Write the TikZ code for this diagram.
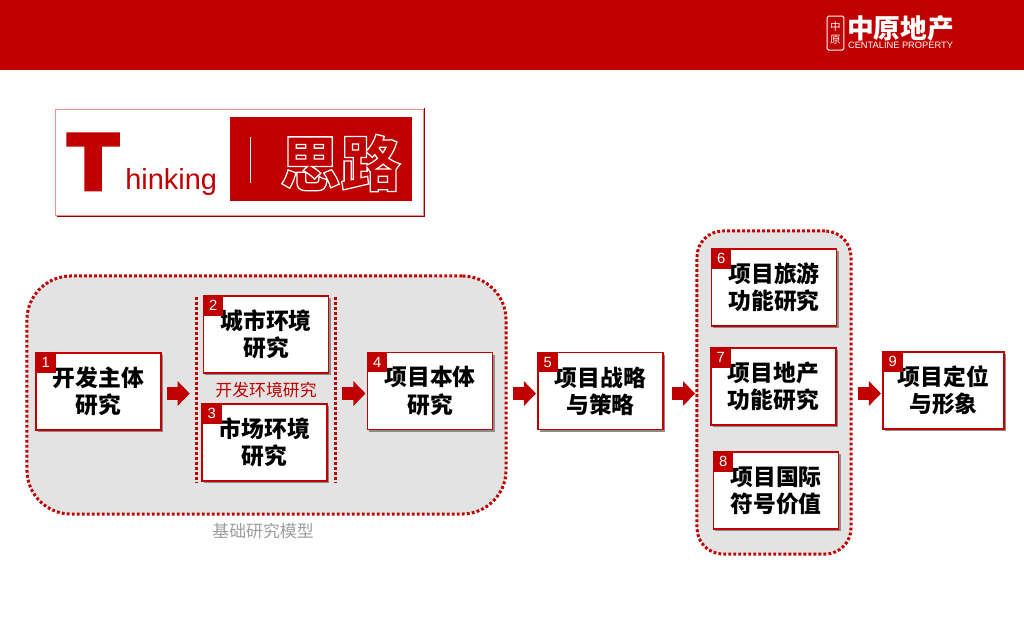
\documentclass[tikz,border=0pt]{standalone}
\usepackage{fontspec}
\newfontfamily\cjk{Noto Sans CJK SC}
\newfontfamily\latin{Liberation Sans}
\newfontfamily\bigt[FakeStretch=1.05]{Liberation Sans Bold}
\usetikzlibrary{arrows.meta,shadows}
\definecolor{zyred}{HTML}{C00000}
\tikzset{
 stepbox/.style={draw=zyred,line width=.3mm,fill=white,minimum width=31.25mm,minimum height=19.25mm,inner sep=0pt,align=center,font=\cjk\fontsize{16.2pt}{19.4pt}\selectfont\bfseries,drop shadow={shadow xshift=.5mm,shadow yshift=-.5mm,fill=black!45,opacity=1}},
 badge/.style={anchor=north west,fill=zyred,text=white,minimum size=5mm,inner sep=0pt,font=\latin\fontsize{10.5pt}{10.5pt}\selectfont},
 groupbox/.style={draw=zyred,fill=black!11,line width=.75mm,dash pattern=on .7mm off .55mm,inner sep=0pt},
 dotline/.style={draw=zyred,line width=.85mm,dash pattern=on .7mm off .55mm},
 flow/.style={draw=zyred,line width=3.25mm,-{Triangle[length=3mm,width=6mm]}},
 note/.style={inner sep=0pt,font=\cjk\fontsize{12pt}{12pt}\selectfont}
}
\begin{document}
\begin{tikzpicture}[x=.025cm,y=-.025cm]
 \useasboundingbox (0,0) rectangle (1024,640);
 \fill[zyred] (0,0) rectangle (1024,70);

 \node[draw=white,line width=.25mm,rounded corners=.4mm,minimum width=4.2mm,minimum height=8.5mm,inner sep=0pt] (seal) at (835.5,33) {};
 \node[text=white,inner sep=0pt,font=\cjk\fontsize{7.5pt}{9pt}\selectfont,align=center] (sealtext) at (seal) {中\\原};
 \node[text=white,inner sep=0pt,font=\cjk\fontsize{19pt}{19pt}\selectfont\bfseries] (logo) at (900.5,28) {中原地产};
 \node[text=white,inner sep=0pt,font=\latin\fontsize{6.6pt}{6.6pt}\selectfont] (logoen) at (900.5,45) {CENTALINE PROPERTY};

 \node[fill=white,draw=red!45,line width=.25mm,minimum width=91.75mm,minimum height=26.25mm,inner sep=0pt] (titlebox) at (239.5,162.5) {};
 \draw[draw=zyred!75!black,line width=.3mm] ([xshift=.3mm,yshift=.3mm]titlebox.north east) |- ([xshift=.3mm,yshift=-.3mm]titlebox.south west);
 \node[fill=zyred,minimum width=45.5mm,minimum height=21mm,inner sep=0pt] (titlepanel) at (321,159) {};
 \draw[white,line width=.25mm] (250,137) -- (250,183);
 \node[text=zyred,anchor=base west,inner sep=0pt,font=\bigt\fontsize{55pt}{55pt}\selectfont] (bigt) at (68,188.5) {\special{pdf:code 2 Tr 4 w}T\special{pdf:code 0 Tr 1 w}};
 \node[text=zyred,anchor=base west,inner sep=0pt,font=\latin\fontsize{20.6pt}{20.6pt}\selectfont] (hinking) at (125,189) {hinking};
 \node[text=white,inner sep=0pt,font=\cjk\fontsize{43pt}{43pt}\selectfont\bfseries] (thinking) at (340.5,163) {\special{pdf:code 1 Tr 0.9 w}思路\special{pdf:code 0 Tr 1 w}};

 \node[groupbox,rounded corners=11mm,minimum width=119.75mm,minimum height=59.5mm] (basegroup) at (266.5,395) {};
 \node[groupbox,rounded corners=6.5mm,minimum width=38.5mm,minimum height=80.75mm] (stratgroup) at (774,392.5) {};
 \node[inner sep=0pt,minimum width=34.5mm,minimum height=46.25mm] (envgroup) at (266,389.5) {};
 \draw[dotline] (envgroup.north west) -- (envgroup.south west);
 \draw[dotline] (envgroup.north east) -- (envgroup.south east);

 \node[stepbox] (box1) at (98.5,391.5) {开发主体\\研究};
 \node[stepbox] (box2) at (266,334.5) {城市环境\\研究};
 \node[stepbox] (box3) at (264.5,442.5) {市场环境\\研究};
 \node[stepbox] (box4) at (430,391) {项目本体\\研究};
 \node[stepbox] (box5) at (600.5,391) {项目战略\\与策略};
 \node[stepbox] (box6) at (774,287.5) {项目旅游\\功能研究};
 \node[stepbox] (box7) at (773.5,386.5) {项目地产\\功能研究};
 \node[stepbox] (box8) at (776,490.5) {项目国际\\符号价值};
 \node[stepbox,minimum width=30.25mm] (box9) at (943.5,390.5) {项目定位\\与形象};

 \node[badge] (num1) at (box1.north west) {1};
 \node[badge] (num2) at (box2.north west) {2};
 \node[badge] (num3) at (box3.north west) {3};
 \node[badge] (num4) at (box4.north west) {4};
 \node[badge] (num5) at (box5.north west) {5};
 \node[badge] (num6) at (box6.north west) {6};
 \node[badge] (num7) at (box7.north west) {7};
 \node[badge] (num8) at (box8.north west) {8};
 \node[badge] (num9) at (box9.north west) {9};

 \node[note,text=zyred] (envlabel) at (266,390) {开发环境研究};
 \node[note,text=black!38] (baselabel) at (263,531) {基础研究模型};

 \coordinate (flowline) at (0,393.5);
 \draw[flow,shorten <=1.35mm,shorten >=1.75mm] (box1.east |- flowline) -- (envgroup.west |- flowline);
 \draw[flow,shorten <=1.75mm,shorten >=.35mm] (envgroup.east |- flowline) -- (box4.west |- flowline);
 \draw[flow,shorten <=4.85mm,shorten >=.35mm] (box4.east |- flowline) -- (box5.west |- flowline);
 \draw[flow,shorten <=2.1mm,shorten >=.1mm] (box5.east |- flowline) -- (stratgroup.west |- flowline);
 \draw[flow,shorten <=1.35mm,shorten >=.35mm] (stratgroup.east |- flowline) -- (box9.west |- flowline);
\end{tikzpicture}
\end{document}
